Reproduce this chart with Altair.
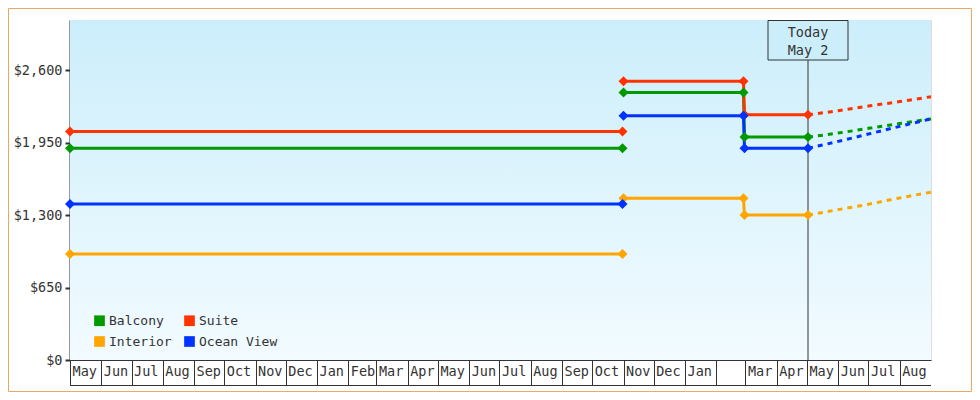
import altair as alt
import pandas as pd

FONT = "DejaVu Sans Mono"
INK = "#333333"

cabins = ["Balcony", "Suite", "Interior", "Ocean View"]
colors = ["#009900", "#FF3300", "#FFA500", "#0033FF"]

# segment 1: May 2022 - Oct 2023
seg1_dates = ["2022-05-01", "2023-10-31"]
seg1_price = [1900, 2050, 950, 1400]
# segment 2: Nov 2023 - Feb 2024
seg2_dates = ["2023-11-01", "2024-02-28"]
seg2_price = [2400, 2500, 1450, 2190]
# segment 3: end Feb 2024 - today
seg3_dates = ["2024-02-29", "2024-05-02"]
seg3_price = [2000, 2200, 1300, 1900]
# dashed projection from today
proj_dates = ["2024-05-02", "2024-06-01", "2024-07-01", "2024-08-01", "2024-09-01"]
proj_balcony = [2000, 2036, 2078, 2121, 2163]
proj_suite = [2200, 2236, 2278, 2318, 2362]
proj_interior = [1300, 1349, 1397, 1454, 1505]
proj_ocean = [1900, 1961, 2027, 2096, 2163]

today = "2024-05-02"
today_label = ["Today", "May 2"]
y_ticks = [0, 650, 1300, 1950, 2600]
y_max = 3050
x_start = (2022, 5, 1)
x_end = (2024, 9, 1)

# month starts for the boxed x axis
month_starts = []
y, m = x_start[0], x_start[1]
while (y, m) < (x_end[0], x_end[1]):
    month_starts.append((y, m))
    m += 1
    if m > 12:
        m = 1
        y += 1


def ts(d):
    return d + "T00:00:00"


rows = []
for i, c in enumerate(cabins):
    for d in seg1_dates:
        rows.append({"cabin": c, "date": ts(d), "price": seg1_price[i], "seg": c + "-1"})
    for d in seg2_dates:
        rows.append({"cabin": c, "date": ts(d), "price": seg2_price[i], "seg": c + "-2"})
    for d in seg3_dates:
        rows.append({"cabin": c, "date": ts(d), "price": seg3_price[i], "seg": c + "-2"})
solid = pd.DataFrame(rows)

proj_vals = {"Balcony": proj_balcony, "Suite": proj_suite,
             "Interior": proj_interior, "Ocean View": proj_ocean}
prow = []
for c in cabins:
    for d, v in zip(proj_dates, proj_vals[c]):
        prow.append({"cabin": c, "date": ts(d), "price": v})
proj = pd.DataFrame(prow)

W, H = 861, 340

xscale = alt.Scale(domain=[alt.DateTime(year=x_start[0], month=x_start[1], date=x_start[2]),
                           alt.DateTime(year=x_end[0], month=x_end[1], date=x_end[2])],
                   nice=False)
yscale = alt.Scale(domain=[0, y_max], nice=False, zero=True)
cscale = alt.Scale(domain=cabins, range=colors)

xaxis = alt.Axis(
    values=[alt.DateTime(year=yy, month=mm, date=1) for yy, mm in month_starts],
    labelExpr="(month(datum.value) == 1 && year(datum.value) == 2024) ? '' : timeFormat(datum.value, '%b')",
    title=None, grid=False, tickSize=25, tickWidth=1, tickColor=INK,
    domainColor=INK, domainWidth=1, labelAlign="left", labelBaseline="middle",
    labelPadding=-14, labelOffset=2, labelFlush=False, labelOverlap=False,
    labelBound=False, labelFont=FONT, labelFontSize=13.5, labelColor=INK,
)
yaxis = alt.Axis(
    values=y_ticks, format="$,.0f", title=None, grid=False,
    tickSize=5, tickWidth=2, tickColor=INK, domainColor=INK, domainWidth=2,
    labelFont=FONT, labelFontSize=13.5, labelColor=INK, labelPadding=3,
)

X = alt.X("date:T", scale=xscale, axis=xaxis)
Y = alt.Y("price:Q", scale=yscale, axis=yaxis)

one = pd.DataFrame({"k": [0]})

bg = alt.Chart(one).mark_rect(
    fill=alt.LinearGradient(
        gradient="linear", x1=0, x2=0, y1=0, y2=1,
        stops=[alt.GradientStop(color="#CCEEFB", offset=0),
               alt.GradientStop(color="#F2FBFF", offset=1)],
    )
).encode(x=alt.value(0), x2=alt.value(W), y=alt.value(0), y2=alt.value(H))

border = alt.Chart(one).mark_rect(filled=False, stroke="#E9A863", strokeWidth=1).encode(
    x=alt.value(-61.5), x2=alt.value(W + 40.5), y=alt.value(-11.5), y2=alt.value(H + 31.5)
)

bottom_rule = alt.Chart(one).mark_rule(color=INK, strokeWidth=1).encode(
    x=alt.value(0), x2=alt.value(W), y=alt.value(H + 25.5)
)

tdf = pd.DataFrame({"date": [ts(today)]})
today_rule = alt.Chart(tdf).mark_rule(color=INK, strokeWidth=1).encode(
    x=alt.X("date:T", scale=xscale, axis=xaxis), y=alt.value(40), y2=alt.value(H)
)
today_box = alt.Chart(tdf).mark_rect(
    fill="#CCEEFB", stroke=INK, strokeWidth=1, xOffset=-40, x2Offset=40
).encode(
    x=alt.X("date:T", scale=xscale, axis=xaxis), x2="date:T",
    y=alt.value(0.5), y2=alt.value(40)
)
today_text = alt.Chart(tdf).mark_text(
    font=FONT, fontSize=13.5, color=INK, align="center", baseline="middle", lineHeight=18
).encode(
    x=alt.X("date:T", scale=xscale, axis=xaxis), y=alt.value(12.5),
    text=alt.value(today_label)
)

dashed = alt.Chart(proj).mark_line(strokeWidth=3, strokeDash=[5, 5], interpolate="monotone").encode(
    x=X, y=Y, color=alt.Color("cabin:N", scale=cscale, legend=None), detail="cabin:N"
)
lines = alt.Chart(solid).mark_line(strokeWidth=3).encode(
    x=X, y=Y, color=alt.Color("cabin:N", scale=cscale, legend=None), detail="seg:N"
)
points = alt.Chart(solid).mark_point(shape="diamond", filled=True, size=100, opacity=1).encode(
    x=X, y=Y,
    color=alt.Color("cabin:N", scale=cscale, legend=alt.Legend(
        orient="none", legendX=23, legendY=294, columns=2, direction="horizontal",
        title=None, symbolType="square", symbolSize=114, symbolStrokeWidth=0,
        symbolOpacity=1, labelFont=FONT, labelFontSize=13, labelColor=INK,
        labelOffset=3, columnPadding=11, rowPadding=7, padding=0,
    )),
)

chart = alt.layer(
    bg, border, bottom_rule, today_rule, today_box, today_text, dashed, lines, points
).resolve_legend(color="independent").properties(
    width=W, height=H, autosize="none",
    padding={"left": 62, "top": 12, "right": 41, "bottom": 32},
    background="white",
).configure_view(stroke=None).configure(font=FONT)

chart.save("out.html", embed_options={"renderer": "svg", "actions": False})
